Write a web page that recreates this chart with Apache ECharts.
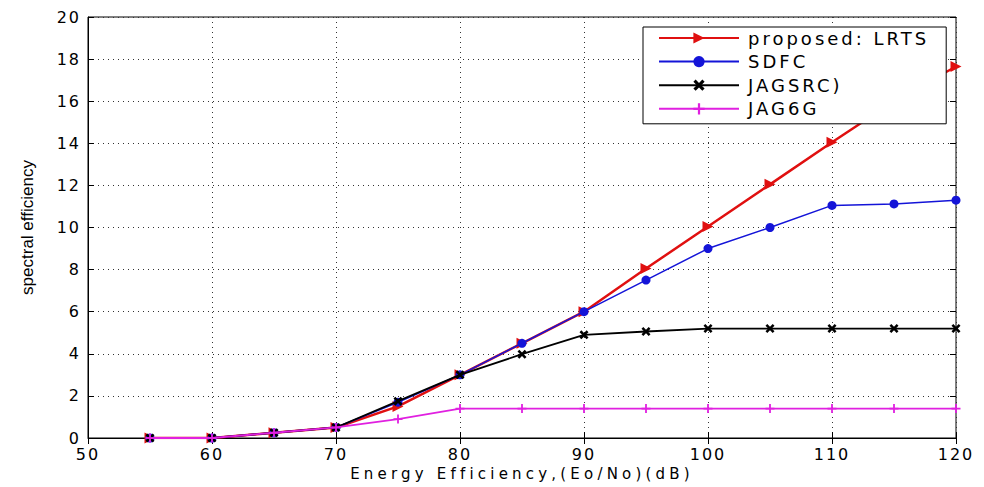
<!DOCTYPE html>
<html lang="en">
<head>
    <meta charset="UTF-8">
    <title>spectral efficiency vs energy efficiency</title>
    <script src="https://cdn.jsdelivr.net/npm/echarts@6/dist/echarts.min.js"></script>
    <style>
        body { margin: 0; padding: 0; background: #fff; }
        #chart { width: 984px; height: 487px; }
        /* the original figure is stretched sideways, so its text is widely spaced */
        #chart text[style*="wideA"] { letter-spacing: 3px; }
        #chart text[style*="wideB"] { letter-spacing: 2px; }
        #chart text[style*="wideC"] { letter-spacing: 4.2px; }
    </style>
</head>
<body>
    <div id="chart"></div>
    <script>
        // data
        const xValues = [55, 60, 65, 70, 75, 80, 85, 90, 95, 100, 105, 110, 115, 120];
        const lrts   = [0, 0, 0.25, 0.5, 1.5, 3, 4.5, 6, 8.05, 10.05, 12.05, 14.05, 16, 17.65];
        const sdfc   = [0, 0, 0.25, 0.5, 1.7, 3, 4.5, 6, 7.5, 9, 10, 11.05, 11.12, 11.3];
        const jagsrc = [0, 0, 0.25, 0.5, 1.75, 3, 3.98, 4.9, 5.06, 5.2, 5.2, 5.2, 5.2, 5.2];
        const jag6g  = [0, 0, 0.25, 0.5, 0.9, 1.4, 1.4, 1.4, 1.4, 1.4, 1.4, 1.4, 1.4, 1.4];
        const seriesNames = ['proposed: LRTS', 'SDFC', 'JAGSRC)', 'JAG6G'];

        const pairs = ys => xValues.map((x, i) => [x, ys[i]]);

        const xMark = 'path://M2,0L5,3L8,0L10,2L7,5L10,8L8,10L5,7L2,10L0,8L3,5L0,2Z';
        const plusMark = 'path://M4,0H6V4H10V6H6V10H4V6H0V4H4Z';

        const chart = echarts.init(document.getElementById('chart'), null, { renderer: 'svg' });

        const gridLine = { show: true, lineStyle: { color: '#333', type: [1, 4], width: 1 } };

        chart.setOption({
            animation: false,
            backgroundColor: '#fff',
            grid: {
                left: 88, right: 28, top: 17, bottom: 49,
                show: true, borderColor: '#000', borderWidth: 1
            },
            legend: {
                orient: 'vertical',
                left: 643, top: 27,
                padding: [2, 59, 6, 15],
                backgroundColor: '#fff',
                borderColor: '#000',
                borderWidth: 1,
                itemWidth: 80,
                itemHeight: 14,
                itemGap: 5.6,
                textStyle: {
                    fontFamily: "'DejaVu Sans', wideA", fontSize: 18, color: '#000',
                    padding: [0, 0, 0, 4]
                },
                data: seriesNames
            },
            xAxis: [{
                type: 'value', min: 50, max: 120, interval: 10,
                name: 'Energy Efficiency,(Eo/No)(dB)',
                nameLocation: 'middle', nameGap: 26,
                nameTextStyle: { fontFamily: "'DejaVu Sans', wideC", fontSize: 15, color: '#000' },
                axisLine: { lineStyle: { color: '#000' } },
                axisTick: { inside: true, length: 6, lineStyle: { color: '#000' } },
                axisLabel: { fontFamily: "'DejaVu Sans', wideB", fontSize: 16, color: '#000', margin: 8 },
                splitLine: gridLine
            }, {
                type: 'value', min: 50, max: 120, interval: 10, position: 'top',
                axisLine: { show: false },
                axisTick: { inside: true, length: 6, lineStyle: { color: '#000' } },
                axisLabel: { show: false }, splitLine: { show: false }
            }],
            yAxis: [{
                type: 'value', min: 0, max: 20, interval: 2,
                name: 'spectral efficiency',
                nameLocation: 'middle', nameGap: 52,
                nameTextStyle: { fontFamily: 'Liberation Sans, Arial, sans-serif', fontSize: 17, color: '#000' },
                axisLine: { show: true, lineStyle: { color: '#000' } },
                axisTick: { show: true, inside: true, length: 6, lineStyle: { color: '#000' } },
                axisLabel: { fontFamily: "'DejaVu Sans', wideB", fontSize: 16, color: '#000', margin: 7 },
                splitLine: gridLine
            }, {
                type: 'value', min: 0, max: 20, interval: 2, position: 'right',
                axisLine: { show: false },
                axisTick: { show: true, inside: true, length: 6, lineStyle: { color: '#000' } },
                axisLabel: { show: false }, splitLine: { show: false }
            }],
            series: [{
                name: seriesNames[0], type: 'line', data: pairs(lrts),
                symbol: 'triangle', symbolRotate: -90, symbolSize: 11,
                lineStyle: { color: '#e01010', width: 2.5 },
                itemStyle: { color: '#e01010' }, z: 2
            }, {
                name: seriesNames[1], type: 'line', data: pairs(sdfc),
                symbol: 'circle', symbolSize: 9,
                lineStyle: { color: '#1414d8', width: 1.5 },
                itemStyle: { color: '#1414d8' }, z: 3
            }, {
                name: seriesNames[2], type: 'line', data: pairs(jagsrc),
                symbol: xMark, symbolSize: 9,
                lineStyle: { color: '#000', width: 1.8 },
                itemStyle: { color: '#000' }, z: 4
            }, {
                name: seriesNames[3], type: 'line', data: pairs(jag6g),
                symbol: plusMark, symbolSize: 9,
                lineStyle: { color: '#e020e0', width: 1.8 },
                itemStyle: { color: '#e020e0' }, z: 5
            }]
        });
    </script>
</body>
</html>
